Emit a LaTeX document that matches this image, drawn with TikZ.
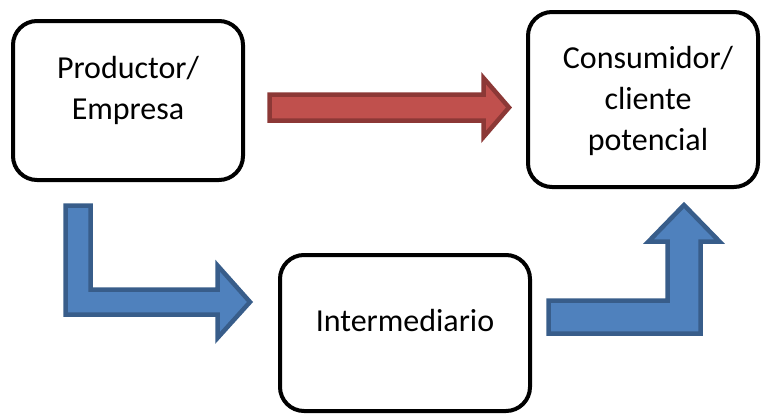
\documentclass[tikz,border=0pt]{standalone}
\usepackage{fontspec}
\setmainfont{Carlito}
\definecolor{redfill}{HTML}{C0504D}
\definecolor{redline}{HTML}{8C3836}
\definecolor{bluefill}{HTML}{4F81BD}
\definecolor{blueline}{HTML}{385D8A}
\begin{document}
\begin{tikzpicture}[x=1pt,y=-1pt,
  box/.style={draw=black,line width=4pt,rounded corners=24pt,fill=white},
  lbl/.style={font=\fontsize{32}{41}\selectfont,align=center,inner sep=0pt},
  redarrow/.style={fill=redfill,draw=redline,line width=4.5pt,line join=miter},
  bluearrow/.style={fill=bluefill,draw=blueline,line width=4.5pt,line join=miter}]
\useasboundingbox (0,0) rectangle (761,415);
% boxes
\draw[box] (13,21) rectangle (243,180);
\draw[box] (528,12) rectangle (758,187);
\draw[box] (280,255) rectangle (530,411);
\node[lbl,anchor=center] (prod) at (128,90) {Productor/\\Empresa};
\node[lbl,anchor=center] (cons) at (648,101) {Consumidor/\\cliente\\potencial};
\node[lbl,anchor=center] (inter) at (405,321) {Intermediario};
% red arrow
\draw[redarrow] (269.5,94.5) -- (483.5,94.5) -- (483.5,78) -- (509,107.5) -- (483.5,137) -- (483.5,120.5) -- (269.5,120.5) -- cycle;
% blue arrow 1
\draw[bluearrow] (65.5,205.5) -- (90.5,205.5) -- (90.5,289.5) -- (217.5,289.5) -- (217.5,265.5) -- (250,302) -- (217.5,338) -- (217.5,314.5) -- (65.5,314.5) -- cycle;
% blue arrow 2
\draw[bluearrow] (548.5,300.5) -- (667.5,300.5) -- (667.5,241.5) -- (648.5,241.5) -- (684,205) -- (719.5,241.5) -- (700.5,241.5) -- (700.5,333.5) -- (548.5,333.5) -- cycle;
\end{tikzpicture}
\end{document}
